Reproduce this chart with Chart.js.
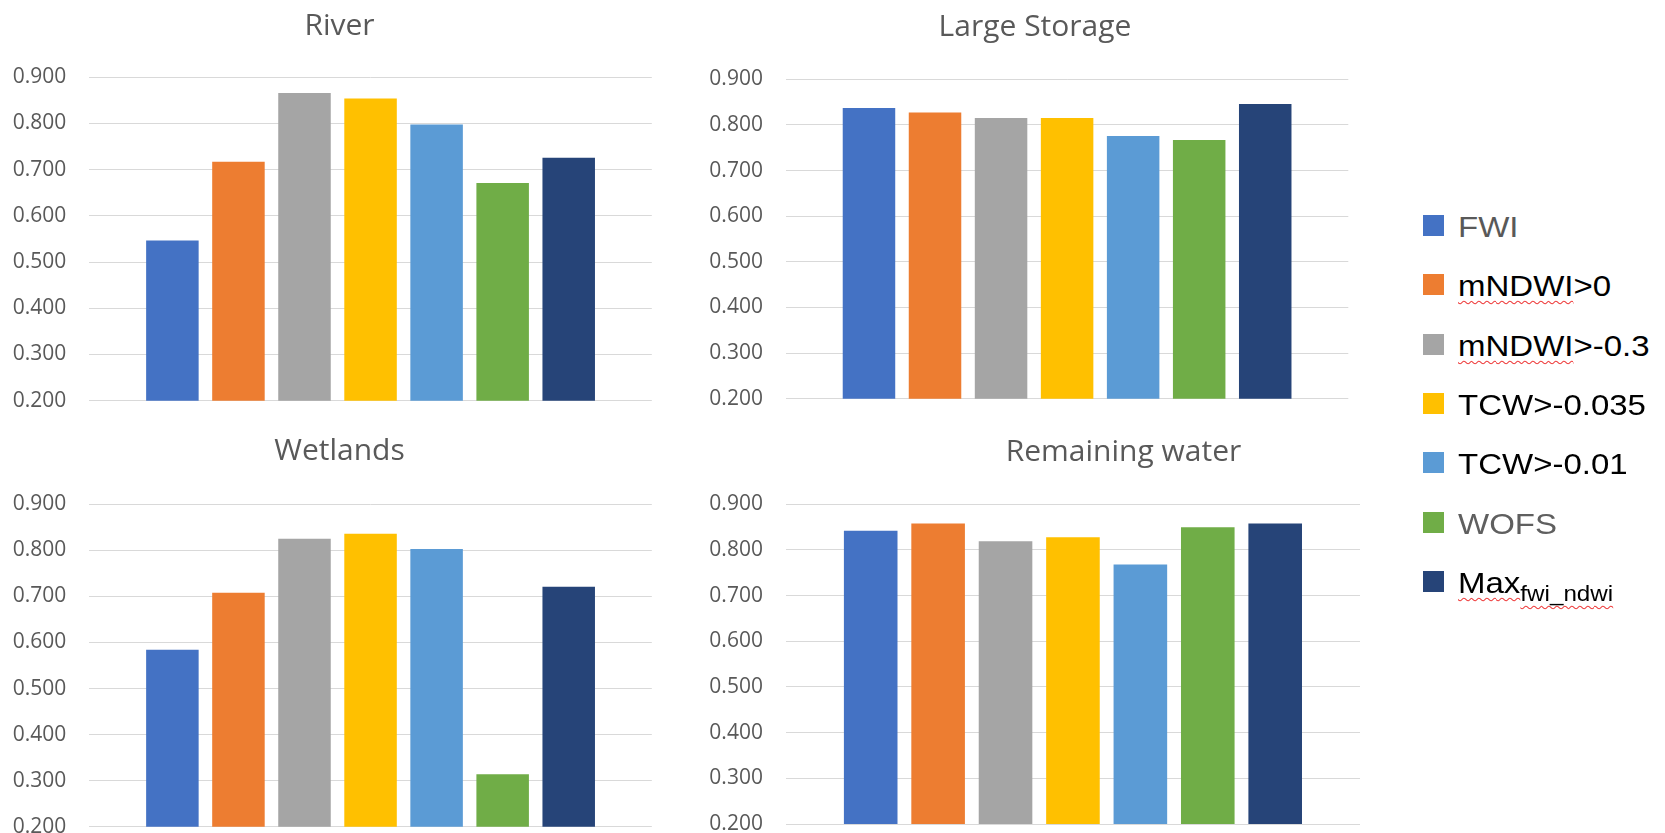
<!DOCTYPE html>
<html>
<head>
<meta charset="utf-8">
<title>Water detection accuracy by class</title>
<script src="https://cdn.jsdelivr.net/npm/chart.js@4.4.1/dist/chart.umd.min.js"></script>
<style>
  html, body { margin: 0; padding: 0; background: #ffffff; width: 1665px; height: 833px; overflow: hidden; }
  canvas.panel { position: absolute; }
  .legend-item { position: absolute; left: 1423px; height: 40px; width: 240px; }
  .legend-swatch { position: absolute; left: 0; top: 9.5px; width: 21px; height: 21px; }
  .legend-text {
    position: absolute; left: 35px; top: 1.5px; height: 40px; line-height: 40px;
    font-family: "Liberation Sans", Arial, sans-serif; font-size: 30px; white-space: nowrap;
    transform: scaleX(1.1); transform-origin: left center; color: #000;
  }
  .legend-text .sp {
    text-decoration: underline wavy #ee3b3b; text-decoration-thickness: 1px;
    text-underline-offset: 4px; text-decoration-skip-ink: none;
  }
  .legend-text .sub { font-size: 22px; vertical-align: -7.5px; }
</style>
</head>
<body>
<script>
// ---- data ----
const panelTitles = ['River', 'Large Storage', 'Wetlands', 'Remaining water'];
const seriesNames = ['FWI', 'mNDWI>0', 'mNDWI>-0.3', 'TCW>-0.035', 'TCW>-0.01', 'WOFS', 'Max'];
const seriesSubscripts = ['', '', '', '', '', '', 'fwi_ndwi'];
const riverValues          = [0.547, 0.717, 0.866, 0.854, 0.798, 0.671, 0.726];
const largeStorageValues   = [0.837, 0.827, 0.815, 0.815, 0.776, 0.767, 0.846];
const wetlandsValues       = [0.584, 0.708, 0.825, 0.836, 0.803, 0.314, 0.721];
const remainingWaterValues = [0.842, 0.858, 0.819, 0.828, 0.768, 0.850, 0.858];
const yMin = 0.2, yMax = 0.9, yStep = 0.1;

// ---- styles ----
const seriesColors = ['#4472C4', '#ED7D31', '#A5A5A5', '#FFC000', '#5B9BD5', '#70AD47', '#264478'];
const legendTextColors = ['#595959', '#000000', '#000000', '#000000', '#000000', '#5f5f5f', '#000000'];
const textGray = '#595959';
const gridGray = '#d9d9d9';
const fontFamily = '"Open Sans", "Liberation Sans", sans-serif';

// canvas placement of each small chart (left/top/size), axis gutters and title spacing
const panelLayout = [
  { left: 0,   top: 0,   width: 679, height: 446, yAxisWidth: 89.3, rightGap: 27.2, titleTop: 8.2,  titleBottom: 33.1, bottomPad: 45.3 },
  { left: 700, top: 0,   width: 670, height: 444, yAxisWidth: 85.9, rightGap: 21.7, titleTop: 9.8,  titleBottom: 33.5, bottomPad: 45.3 },
  { left: 0,   top: 420, width: 679, height: 452, yAxisWidth: 89.3, rightGap: 27.2, titleTop: 13.2, titleBottom: 35.1, bottomPad: 45.3 },
  { left: 700, top: 420, width: 847, height: 449, yAxisWidth: 85.9, rightGap: 187,  titleTop: 14.8, titleBottom: 33.5, bottomPad: 45.0 }
];
const panelValues = [riverValues, largeStorageValues, wetlandsValues, remainingWaterValues];

function makePanel(idx) {
  const lay = panelLayout[idx];
  const canvas = document.createElement('canvas');
  canvas.className = 'panel';
  canvas.width = lay.width;
  canvas.height = lay.height;
  canvas.style.left = lay.left + 'px';
  canvas.style.top = lay.top + 'px';
  canvas.style.width = lay.width + 'px';
  canvas.style.height = lay.height + 'px';
  document.body.appendChild(canvas);

  const values = panelValues[idx];
  const datasets = seriesNames.map((name, i) => ({
    label: seriesSubscripts[i] ? name + ' ' + seriesSubscripts[i] : name,
    data: [values[i]],
    backgroundColor: seriesColors[i],
    borderWidth: 0,
    categoryPercentage: 0.822,
    barPercentage: 0.795
  }));

  new Chart(canvas, {
    type: 'bar',
    data: { labels: [panelTitles[idx]], datasets },
    options: {
      responsive: false,
      animation: false,
      devicePixelRatio: 1,
      layout: { padding: { left: 0, right: 0, top: 0, bottom: lay.bottomPad } },
      plugins: {
        legend: { display: false },
        tooltip: { enabled: false },
        title: {
          display: true,
          text: panelTitles[idx],
          color: textGray,
          font: { family: fontFamily, size: 30, weight: 'normal', lineHeight: 1.2 },
          padding: { top: lay.titleTop, bottom: lay.titleBottom }
        }
      },
      scales: {
        x: { display: false },
        y: {
          position: 'left',
          min: yMin,
          max: yMax,
          ticks: {
            stepSize: yStep,
            color: textGray,
            padding: 23,
            font: { family: fontFamily, size: 21 },
            callback: v => Number(v).toFixed(3)
          },
          grid: { color: gridGray, lineWidth: 1, drawTicks: false },
          border: { display: false },
          afterFit: s => { s.width = lay.yAxisWidth; }
        },
        // empty gutter on the right so the title centres over the whole panel
        gutter: {
          type: 'linear',
          position: 'right',
          display: true,
          ticks: { display: false },
          grid: { display: false },
          border: { display: false },
          afterFit: s => { s.width = lay.rightGap; }
        }
      }
    }
  });
}

panelTitles.forEach((_, i) => makePanel(i));

// ---- shared legend ----
const legendFirstCenter = 225.3, legendStep = 59.4;
function esc(s) { return s.replace(/&/g, '&amp;').replace(/</g, '&lt;').replace(/>/g, '&gt;'); }
seriesNames.forEach((name, i) => {
  const item = document.createElement('div');
  item.className = 'legend-item';
  item.style.top = (legendFirstCenter + i * legendStep - 20) + 'px';

  const sw = document.createElement('div');
  sw.className = 'legend-swatch';
  sw.style.background = seriesColors[i];
  item.appendChild(sw);

  const tx = document.createElement('div');
  tx.className = 'legend-text';
  tx.style.color = legendTextColors[i];
  let html = esc(name).replace(/^(mNDWI|Max)/, '<span class="sp">$1</span>');
  if (seriesSubscripts[i]) html += '<span class="sub sp">' + esc(seriesSubscripts[i]) + '</span>';
  tx.innerHTML = html;
  item.appendChild(tx);

  document.body.appendChild(item);
});
</script>
</body>
</html>
